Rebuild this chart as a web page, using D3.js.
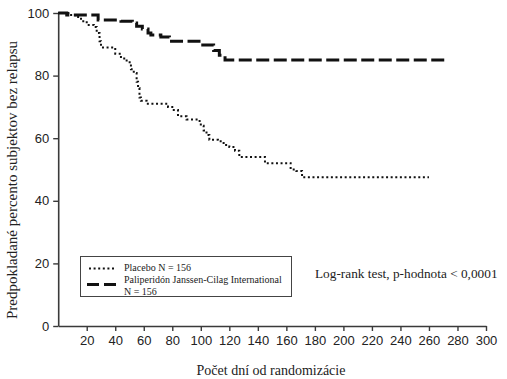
<!DOCTYPE html>
<html><head><meta charset="utf-8">
<script src="https://cdn.jsdelivr.net/npm/d3@7"></script>
<style>html,body{margin:0;padding:0;background:#fff;}svg{display:block;}</style>
</head><body>
<svg id="c" width="507" height="379"></svg>
<script>
const placeboDays = [0,8,12,16,20,25,27,29,30,40,44,48,51,53,55,56,57,58,62,77,80,84,90,98,100,102,104,106,112,116,120,124,127,145,163,167,171,260];
const placeboPct  = [100,99.4,98.7,97.4,96.2,95.5,93.6,91,89,87,85.5,84.3,82,80.8,78,76,73,72,71,70,69,67,66,65.5,64,62.5,61,59.5,59,57.8,57.2,56,54,52,50,49.5,47.5,47.5];
const activeDays = [0,6,28,44,52,55,59,63,65,72,78,100,109,113,117,272];
const activePct  = [100,99.4,97.8,97.4,96.8,95.8,94.9,93.6,93,92.3,91,89.8,88,86.5,85,85];
const xTicks = [20,40,60,80,100,120,140,160,180,200,220,240,260,280,300];
const yTicks = [0,20,40,60,80,100];
const seriesNames = ["Placebo N = 156", "Paliperidón Janssen-Cilag International", "N = 156"];
const yTitle = "Predpokladané percento subjektov bez relapsu";
const xTitle = "Počet dní od randomizácie";
const note = "Log-rank test, p-hodnota < 0,0001";

const svg = d3.select("#c");
const x = d3.scaleLinear().domain([0,300]).range([58.2,486]);
const y = d3.scaleLinear().domain([0,100]).range([326,13]);
const axisColor = "#3a3a3a";

const xa = svg.append("g").attr("transform","translate(0,326)")
  .call(d3.axisBottom(x).tickValues(xTicks).tickSize(5).tickPadding(5).tickSizeOuter(0));
const ya = svg.append("g").attr("transform","translate(58.2,0)")
  .call(d3.axisLeft(y).tickValues(yTicks).tickSize(5).tickPadding(4).tickSizeOuter(0));
[xa,ya].forEach(a=>{
  a.select(".domain").attr("stroke",axisColor).attr("stroke-width",1.6);
  a.selectAll(".tick line").attr("stroke",axisColor).attr("stroke-width",1.4);
  a.selectAll(".tick text").attr("fill","#222").style("font-family","'Liberation Sans', Arial, sans-serif").style("font-size","13px");
});

const line = d3.line().x(d=>x(d[0])).y(d=>y(d[1])).curve(d3.curveStepAfter);
const pData = placeboDays.map((d,i)=>[d,placeboPct[i]]);
const aData = activeDays.map((d,i)=>[d,activePct[i]]);
svg.append("path").attr("d",line(pData)).attr("fill","none").attr("stroke","#111")
  .attr("stroke-width",2).attr("stroke-dasharray","2,2.6");
svg.append("path").attr("d",line(aData)).attr("fill","none").attr("stroke","#111")
  .attr("stroke-width",3).attr("stroke-dasharray","13,4.5");

const serif = "'Liberation Serif', 'Times New Roman', serif";
svg.append("text").attr("transform","translate(17,180) rotate(-90)").attr("text-anchor","middle")
  .style("font-family",serif).style("font-size","15px").attr("fill","#222").text(yTitle);
svg.append("text").attr("x",271).attr("y",375).attr("text-anchor","middle")
  .style("font-family",serif).style("font-size","14px").attr("fill","#222").text(xTitle);
svg.append("text").attr("x",315).attr("y",278)
  .style("font-family",serif).style("font-size","13.3px").attr("fill","#222").text(note);

// legend
const lg = svg.append("g");
lg.append("rect").attr("x",80.5).attr("y",256.5).attr("width",211).attr("height",40)
  .attr("fill","#fff").attr("stroke","#444").attr("stroke-width",1);
lg.append("line").attr("x1",89).attr("x2",116).attr("y1",268.5).attr("y2",268.5)
  .attr("stroke","#111").attr("stroke-width",2).attr("stroke-dasharray","2,2.6");
lg.append("line").attr("x1",87).attr("x2",116).attr("y1",284.5).attr("y2",284.5)
  .attr("stroke","#111").attr("stroke-width",3).attr("stroke-dasharray","12,5");
const lt = [[271,seriesNames[0]],[282.5,seriesNames[1]],[294.5,seriesNames[2]]];
lt.forEach(([yy,t])=>{
  lg.append("text").attr("x",124).attr("y",yy).style("font-family",serif)
    .style("font-size","10px").attr("fill","#222").text(t);
});
</script>
</body></html>
